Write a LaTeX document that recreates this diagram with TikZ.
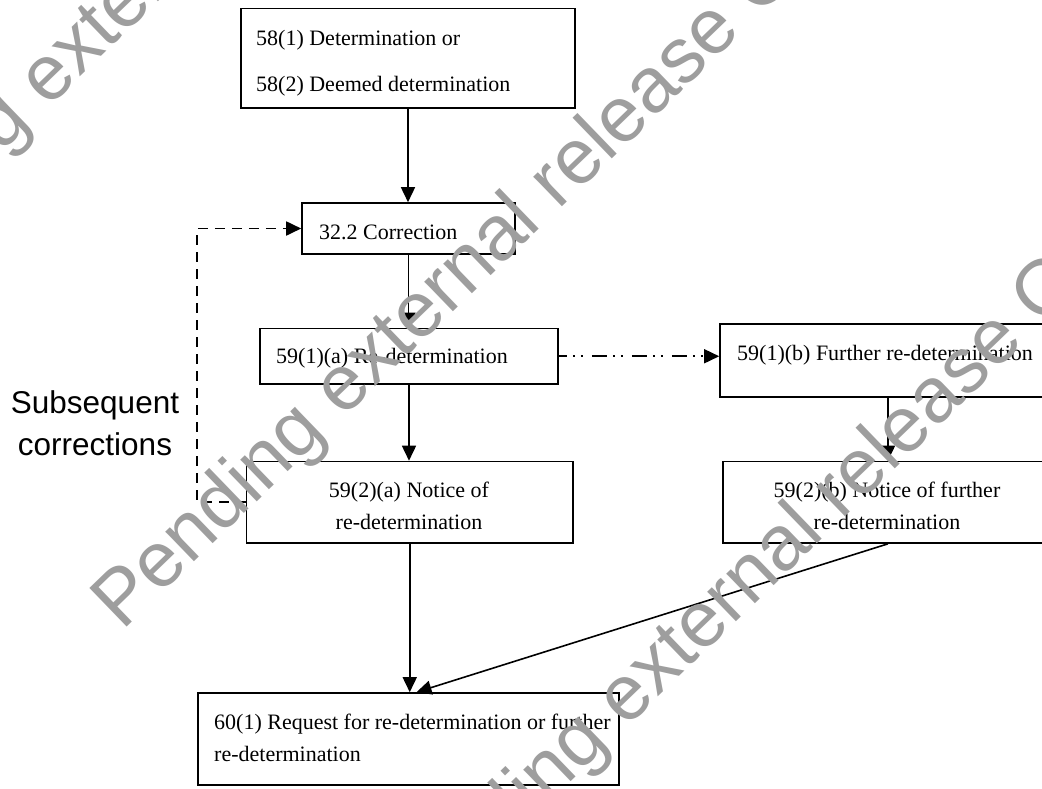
\documentclass[tikz,border=0pt]{standalone}
\usepackage{fontspec}
\setmainfont{Liberation Serif}
\newfontfamily\arialfont{Liberation Sans}
\usetikzlibrary{arrows.meta,calc}
\definecolor{wmgray}{RGB}{158,158,158}
\tikzset{
  box/.style={draw, line width=1.6pt, inner sep=0pt, rectangle},
  lbl/.style={inner sep=0pt, font=\fontsize{22}{26}\selectfont},
  arr/.style={line width=1.6pt, -{Triangle[length=15pt,width=14pt]}},
  dashedarr/.style={arr, line width=1.8pt, dash pattern=on 10pt off 7pt},
  dashdotarr/.style={arr, dash pattern=on 15pt off 6pt on 2pt off 6pt on 2pt off 9pt, dash phase=7pt},
  sidelbl/.style={inner sep=0pt, anchor=base, font=\arialfont\fontsize{31.5}{36}\selectfont},
  wm/.style={inner sep=0pt, anchor=base west, rotate=44, text=wmgray, font=\arialfont\fontsize{78}{84}\selectfont}
}
\begin{document}
\begin{tikzpicture}[x=1pt,y=-1pt]
\useasboundingbox (0,0) rectangle (1042,788);
\fill[white] (0,0) rectangle (1042,788);
\clip (0,0) rectangle (1042,788);

% boxes
\node[box, minimum width=334pt, minimum height=99.5pt] (a) at (408,58.25) {};
\node[box, minimum width=213pt, minimum height=51pt] (b) at (408.5,228.5) {};
\node[box, minimum width=298pt, minimum height=55.5pt] (c) at (409,356.25) {};
\node[box, minimum width=336pt, minimum height=73pt] (d) at (888,360.5) {};
\node[box, minimum width=330pt, minimum height=81.5pt] (e) at (888,502.25) {};
\node[box, minimum width=326.5pt, minimum height=81.5pt] (f) at (409.75,502.25) {};
\node[box, minimum width=421pt, minimum height=92pt] (g) at (408.5,739) {};

% texts
\node[lbl, anchor=base west] (a1) at (256,45) {58(1) Determination or};
\node[lbl, anchor=base west] (a2) at (256,91) {58(2) Deemed determination};
\node[lbl, anchor=base west] (b1) at (319,239) {32.2 Correction};
\node[lbl, anchor=base west] (c1) at (276,363) {59(1)(a) Re-determination};
\node[lbl, anchor=base west] (d1) at (737,360) {59(1)(b) Further re-determination};
\node[lbl, anchor=base] (e1) at (887,497) {59(2)(b) Notice of further};
\node[lbl, anchor=base] (e2) at (887,529) {re-determination};
\node[lbl, anchor=base] (f1) at (409,497) {59(2)(a) Notice of};
\node[lbl, anchor=base] (f2) at (409,529) {re-determination};
\node[lbl, anchor=base west] (g1) at (214,729) {60(1) Request for re-determination or further};
\node[lbl, anchor=base west] (g2) at (214,761) {re-determination};
\node[sidelbl] (s1) at (95,413) {Subsequent};
\node[sidelbl] (s2) at (95,455) {corrections};

% connectors
\draw[arr] (a.south) -- (a.south |- b.north);
\draw[arr] (b.south) -- (b.south |- c.north);
\draw[arr] (c.south) -- (c.south |- f.north);
\draw[arr] (f.south) -- (f.south |- g.north);
\draw[arr] (d.south) -- (d.south |- e.north);
\draw[arr] (e.south) -- ($(g.north)+(8,0)$);
\draw[dashdotarr] (c.east) -- (c.east -| d.west);
\draw[dashedarr] (f.west) -- ++(-48.5,0) |- (b.west);

% watermark
\node[wm] (w1) at (122,632) {Pending external release O};
\node[wm] (w2) at (405,942) {Pending external release O};
\node[wm] (w3) at (-173,322) {Pending external release O};
\end{tikzpicture}
\end{document}
